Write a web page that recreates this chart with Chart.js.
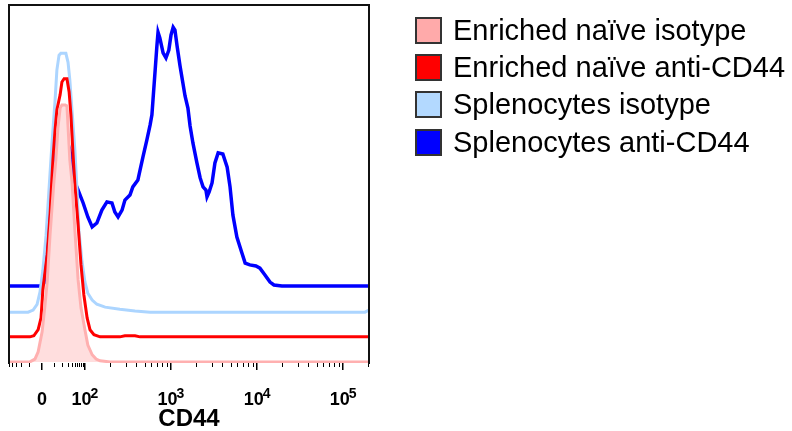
<!DOCTYPE html>
<html>
<head>
<meta charset="utf-8">
<title>CD44 histogram</title>
<script src="https://cdn.jsdelivr.net/npm/chart.js@4.4.1/dist/chart.umd.min.js"></script>
<style>
    html, body { margin: 0; padding: 0; background: #fff; }
    #wrap { position: relative; width: 792px; height: 431px; }
    #chart { position: absolute; left: 0; top: 0; }
    #legend {
        position: absolute;
        left: 415px;
        top: 11.5px;
        font-family: 'Liberation Sans', Arial, sans-serif;
        font-size: 29px;
        color: #000;
    }
    .legend-row { display: flex; align-items: center; height: 37.3px; white-space: nowrap; }
    .legend-box { width: 27px; height: 27px; box-sizing: border-box; border: 2px solid #333; margin-right: 11px; flex: none; }
</style>
</head>
<body>
<div id="wrap">
    <canvas id="chart" width="792" height="431"></canvas>
    <div id="legend"></div>
</div>
<script>
// series names, same order as the legend
const seriesNames = ['Enriched naïve isotype', 'Enriched naïve anti-CD44', 'Splenocytes isotype', 'Splenocytes anti-CD44'];

// x = display channel (0-1000 across the plot), y = % of max count above the series baseline
const naiveIsoX = [0, 58, 72, 81, 92, 100, 106, 114, 124, 130, 136, 142, 147, 156, 161, 169, 175, 183, 192, 200, 211, 219, 231, 242, 253, 281, 1000];
const naiveIsoY = [0, 0, 0.8, 2.8, 8.4, 15.9, 22.3, 35.5, 49.4, 56.4, 65.4, 70.9, 71.8, 71.8, 71.5, 56.4, 50.3, 36.9, 22.9, 15.1, 8.9, 4.7, 2.0, 0.8, 0.3, 0, 0];

const naiveCd44X = [0, 58, 69, 81, 89, 94, 106, 114, 119, 122, 128, 133, 142, 147, 153, 161, 167, 172, 178, 183, 192, 200, 208, 217, 225, 236, 253, 308, 322, 350, 364, 1000];
const naiveCd44Y = [0, 0, 0.3, 2.0, 5.3, 13.1, 22.9, 34.1, 43.9, 49.4, 57.8, 63.4, 67.6, 71.2, 72.1, 72.1, 68.4, 62.0, 50.8, 42.5, 31.3, 20.1, 11.7, 5.3, 2.0, 0.6, 0, 0, 0.3, 0.3, 0, 0];

const splenoIsoX = [0, 53, 67, 78, 86, 94, 103, 111, 119, 128, 133, 139, 144, 158, 164, 169, 175, 183, 189, 194, 203, 211, 219, 231, 244, 267, 308, 350, 392, 989, 1000];
const splenoIsoY = [0, 0, 0.6, 2.2, 5.6, 11.7, 21.5, 34.1, 46.6, 59.2, 67.6, 71.8, 72.3, 72.3, 69.8, 64.8, 56.4, 45.3, 34.1, 22.9, 14.0, 8.4, 5.3, 3.4, 2.2, 1.4, 0.8, 0.3, 0, 0, 0.6];

const splenoCd44X = [0, 89, 97, 106, 114, 119, 125, 136, 156, 169, 175, 181, 192, 206, 219, 231, 244, 258, 272, 286, 294, 303, 314, 322, 336, 344, 358, 364, 372, 383, 392, 397, 400, 406, 411, 414, 419, 428, 436, 444, 450, 456, 461, 467, 475, 483, 489, 497, 503, 511, 522, 531, 539, 547, 550, 556, 564, 572, 581, 594, 606, 614, 622, 633, 647, 656, 669, 686, 697, 711, 725, 736, 758, 1000];
const splenoCd44Y = [0, 0, 0.8, 8.7, 19.8, 29.6, 38.0, 42.2, 42.2, 38.0, 33.8, 29.6, 26.8, 23.2, 19.3, 16.5, 17.6, 21.2, 23.5, 23.2, 20.7, 19.3, 21.2, 24.0, 25.4, 27.7, 29.6, 32.4, 36.0, 40.8, 45.0, 47.8, 52.0, 60.3, 67.3, 70.9, 69.3, 65.1, 63.7, 65.9, 70.1, 72.3, 71.5, 67.0, 61.5, 56.7, 53.1, 49.7, 44.7, 39.9, 34.4, 30.2, 27.7, 26.8, 24.9, 26.3, 28.8, 34.4, 37.2, 36.9, 33.2, 27.7, 19.8, 13.7, 9.2, 6.4, 5.9, 5.6, 5.0, 3.1, 1.1, 0.3, 0, 0];

// offset of each histogram (overlay stacking)
const baselineOffsets = [0.3, 7.3, 14.2, 21.5];

// axis ticks (fluorescence values) and their labels
const tickValues = [0, 1e2, 1e3, 1e4, 1e5];
const tickLabels = ['0', '10²', '10³', '10⁴', '10⁵'];

const lineColors = ['#ffb0b0', '#ff0000', '#acd5ff', '#0000ff'];
const legendColors = ['#ffaaaa', '#ff0000', '#b3d9ff', '#0000ff'];
const fontFamily = "'Liberation Sans', Arial, sans-serif";

// biexponential display: linear-ish around 0, log above 10^2
const CH_ZERO = 92;
const CH_100 = 211;
const CH_DECADE = 239;

function toChannel(v) {
    if (v >= 100) {
        return CH_100 + (Math.log10(v) - 2) * CH_DECADE;
    }
    return CH_ZERO + (CH_100 - CH_ZERO) * Math.asinh(v / 10) / Math.asinh(10);
}

const majorChannels = tickValues.map(toChannel);

const minorValues = [];
for (let k = 1; k <= 9; k++) {
    minorValues.push(-10 * k, 10 * k);
}
for (let d = 2; d <= 5; d++) {
    for (let k = 2; k <= 9; k++) {
        minorValues.push(k * Math.pow(10, d));
    }
}
const minorChannels = minorValues.map(toChannel).filter(c => c >= 0 && c <= 1000);

const series = [
    [naiveIsoX, naiveIsoY],
    [naiveCd44X, naiveCd44Y],
    [splenoIsoX, splenoIsoY],
    [splenoCd44X, splenoCd44Y]
];

const frame = {
    id: 'frame',
    afterDatasetsDraw(chart) {
        const { ctx, chartArea: a } = chart;
        ctx.save();
        ctx.strokeStyle = '#111';
        ctx.lineWidth = 2;
        ctx.beginPath();
        ctx.moveTo(a.left, a.bottom + 1);
        ctx.lineTo(a.left, a.top);
        ctx.lineTo(a.right, a.top);
        ctx.lineTo(a.right, a.bottom + 1);
        ctx.stroke();
        ctx.restore();
    }
};

// tick labels with a real superscript exponent ("10" + raised digit)
const SUPERSCRIPTS = { '⁰': '0', '¹': '1', '²': '2', '³': '3', '⁴': '4', '⁵': '5', '⁶': '6', '⁷': '7', '⁸': '8', '⁹': '9' };

const tickText = {
    id: 'tickText',
    afterDraw(chart) {
        const { ctx } = chart;
        const scale = chart.scales.x;
        const baseY = 405;

        ctx.save();
        ctx.fillStyle = '#000';
        ctx.textBaseline = 'alphabetic';
        ctx.textAlign = 'left';

        tickLabels.forEach((label, i) => {
            let base = '';
            let sup = '';
            for (const ch of label) {
                if (SUPERSCRIPTS[ch]) {
                    sup += SUPERSCRIPTS[ch];
                } else {
                    base += ch;
                }
            }

            ctx.font = `bold 18px ${fontFamily}`;
            const wBase = ctx.measureText(base).width;
            ctx.font = `bold 14px ${fontFamily}`;
            const wSup = sup ? ctx.measureText(sup).width - 1 : 0;

            const x0 = scale.getPixelForValue(majorChannels[i]) - (wBase + wSup) / 2;
            ctx.font = `bold 18px ${fontFamily}`;
            ctx.fillText(base, x0, baseY);
            if (sup) {
                ctx.font = `bold 14px ${fontFamily}`;
                ctx.fillText(sup, x0 + wBase - 1, baseY - 7);
            }
        });
        ctx.restore();
    }
};

new Chart(document.getElementById('chart'), {
    type: 'line',
    data: {
        datasets: series.map(([xs, ys], i) => ({
            label: seriesNames[i],
            data: xs.map((x, j) => ({ x: x, y: ys[j] + baselineOffsets[i] })),
            borderColor: lineColors[i],
            backgroundColor: i === 0 ? '#ffdede' : lineColors[i],
            borderWidth: i === 3 ? 3.5 : 3,
            fill: i === 0 ? { value: baselineOffsets[0] } : false,
            pointRadius: 0,
            tension: 0,
            xAxisID: 'x',
            yAxisID: 'y'
        }))
    },
    options: {
        responsive: false,
        animation: false,
        layout: {
            padding: { left: 9, top: 5, right: 423, bottom: 0 }
        },
        plugins: {
            legend: { display: false },
            tooltip: { enabled: false }
        },
        scales: {
            x: {
                type: 'linear',
                position: 'bottom',
                min: 0,
                max: 1000,
                afterFit: scale => { scale.height = 68; },
                afterBuildTicks: scale => { scale.ticks = majorChannels.map(v => ({ value: v })); },
                ticks: {
                    display: false,
                    autoSkip: false,
                    maxRotation: 0
                },
                grid: { drawOnChartArea: false, tickLength: 7, color: '#000', lineWidth: 1.5 },
                border: { display: false },
                title: {
                    display: true,
                    text: 'CD44',
                    color: '#000',
                    font: { family: fontFamily, size: 24, weight: 'bold', lineHeight: 1 },
                    padding: { top: 0, bottom: 0 }
                }
            },
            xMinor: {
                type: 'linear',
                position: { y: 0 },
                min: 0,
                max: 1000,
                afterBuildTicks: scale => { scale.ticks = minorChannels.map(v => ({ value: v })); },
                ticks: { display: false },
                grid: { drawOnChartArea: false, tickLength: 4, color: '#000', lineWidth: 1 },
                border: { display: false }
            },
            y: {
                display: false,
                min: 0,
                max: 100
            }
        }
    },
    plugins: [frame, tickText]
});

// legend on the right
const legend = document.getElementById('legend');
seriesNames.forEach((name, i) => {
    const row = document.createElement('div');
    row.className = 'legend-row';
    row.innerHTML = `<span class="legend-box" style="background:${legendColors[i]}"></span><span>${name}</span>`;
    legend.appendChild(row);
});
</script>
</body>
</html>
